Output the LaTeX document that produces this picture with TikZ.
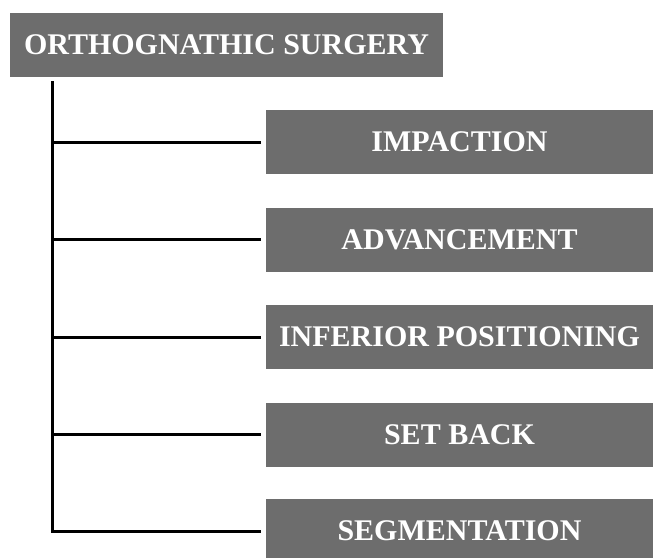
\documentclass[tikz,border=0pt]{standalone}
\usepackage{fontspec}
\setmainfont{Liberation Serif}
\definecolor{boxgray}{HTML}{6D6D6D}

\begin{document}
\begin{tikzpicture}[x=1pt,y=-1pt,
	box/.style={fill=boxgray,text=white,inner sep=0pt,minimum height=64pt,
		font=\bfseries\fontsize{30}{30}\selectfont},
	branch/.style={line width=3pt}]
	\clip (0,0) rectangle (653,557);
	\node[box,minimum width=433pt] (surgery) at (226.5,45) {ORTHOGNATHIC SURGERY};
	\coordinate (trunk) at (52,81);
	\foreach \name/\txt/\yy in {impaction/IMPACTION/142,advancement/ADVANCEMENT/239.5,
		inferior/INFERIOR POSITIONING/337,setback/SET BACK/434.5,segmentation/SEGMENTATION/531}
	{
		\node[box,minimum width=387pt] (\name) at (459.5,\yy) {\txt};
		\draw[branch] (trunk) |- ([xshift=-5pt]\name.west);
	}
\end{tikzpicture}
\end{document}
